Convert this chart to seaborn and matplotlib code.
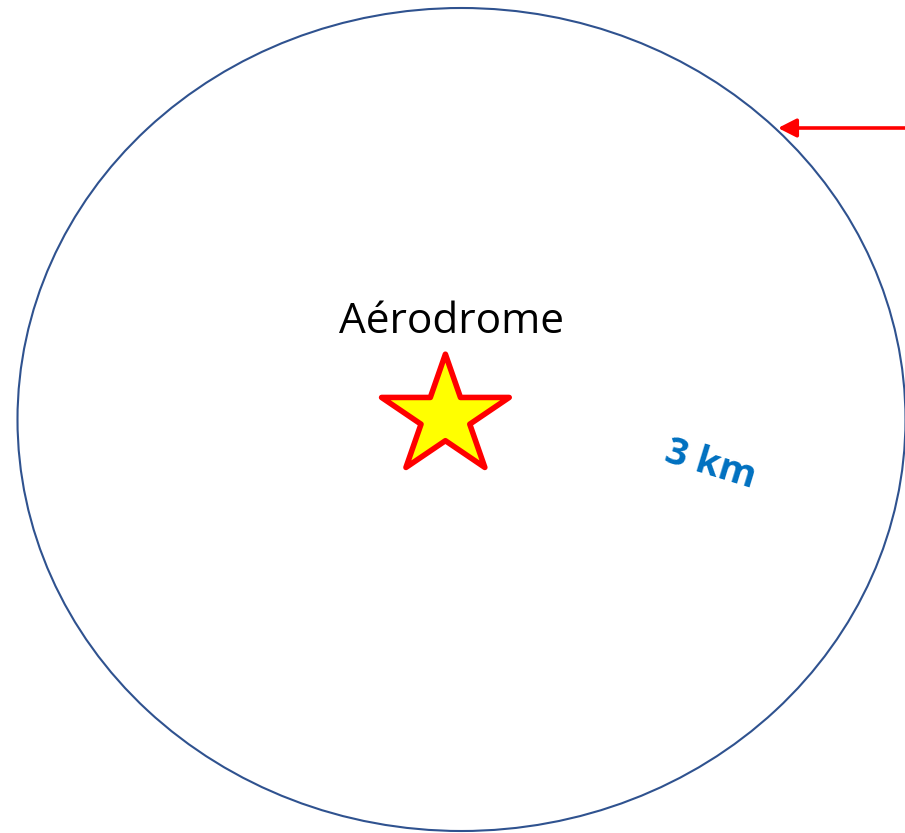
import matplotlib.pyplot as plt
import numpy as np
import pandas as pd
import seaborn as sns
from matplotlib.patches import Ellipse

# Geometry of the drawing, in pixels of the 905x833 canvas (y grows downwards)
zone_center = [461.5, 419.5]
zone_size = [888, 823]
star_center = [445.4, 416.8]
star_radii = [67.1, 62.6]
arrow_start = [905, 128]
arrow_end = [778, 128]
labels = ["Aérodrome", "3 km"]
label_pos = [[451.5, 333], [710.5, 465]]
label_angle = [0, -17]

sns.set_theme(style="white")
plt.rcParams['font.family'] = ['Open Sans', 'DejaVu Sans']

fig = plt.figure(figsize=(9.05, 8.33), dpi=100)
ax = fig.add_axes([0, 0, 1, 1])
ax.set_xlim(0, 905)
ax.set_ylim(833, 0)
ax.set_axis_off()

# Circle of 3 km around the aerodrome
ax.add_patch(Ellipse(zone_center, zone_size[0], zone_size[1],
                     fill=False, edgecolor="#2F528F", linewidth=1.5))

# Star for the aerodrome
angles = np.deg2rad(-90 + 36 * np.arange(11))
r = np.where(np.arange(11) % 2 == 0, 1.0, 0.382)
star = pd.DataFrame({
    "x": star_center[0] + star_radii[0] * r * np.cos(angles),
    "y": star_center[1] + star_radii[1] * r * np.sin(angles),
})
ax.fill(star.x, star.y, facecolor="#FFFF00", edgecolor="#FF0000",
        linewidth=4, joinstyle="round")

# Red arrow pointing at the circle
ax.annotate("", xy=arrow_end, xytext=arrow_start,
            arrowprops=dict(arrowstyle="-|>,head_length=0.55,head_width=0.28",
                            mutation_scale=20, color="#FF0000", lw=2.6,
                            shrinkA=0, shrinkB=0))

ax.text(label_pos[0][0], label_pos[0][1], labels[0], fontsize=30.5,
        color="black", ha="center", va="baseline")
ax.text(label_pos[1][0], label_pos[1][1], labels[1], fontsize=27.5,
        fontweight="bold", color="#0070C0", ha="center", va="center",
        rotation=label_angle[1], rotation_mode="anchor")

fig.savefig("out.png", dpi=100)
